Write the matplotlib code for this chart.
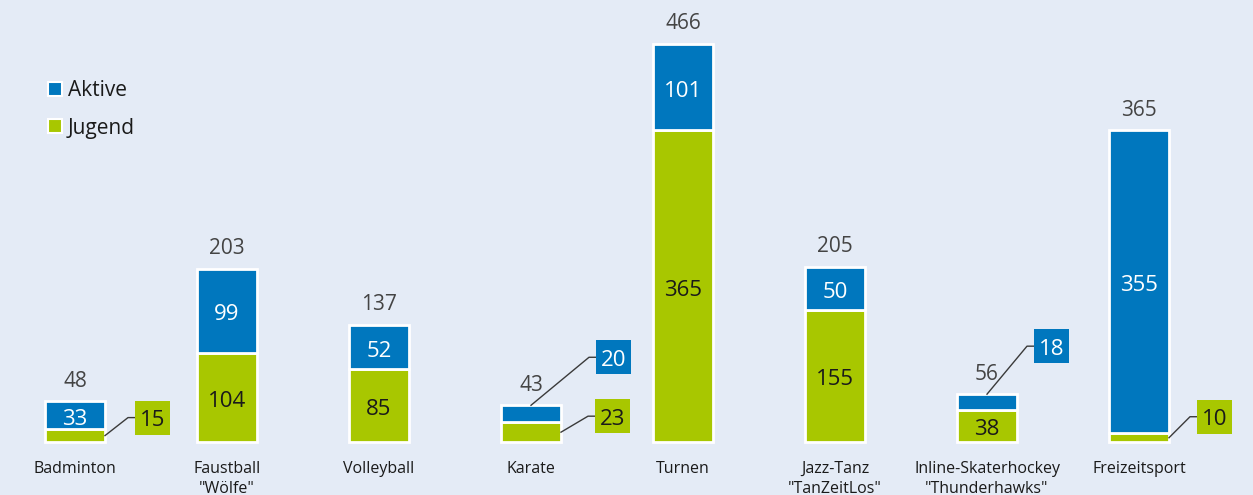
import numpy as np
import matplotlib
matplotlib.use("Agg")
import matplotlib.pyplot as plt
from matplotlib.patches import Rectangle, Patch

plt.rcParams['font.family'] = ['Open Sans', 'DejaVu Sans']

# data
categories = ['Badminton', 'Faustball\n"Wölfe"', 'Volleyball', 'Karate', 'Turnen',
              'Jazz-Tanz\n"TanZeitLos"', 'Inline-Skaterhockey\n"Thunderhawks"', 'Freizeitsport']
jugend = [15, 104, 85, 23, 365, 155, 38, 10]
aktive = [33, 99, 52, 20, 101, 50, 18, 355]

BG = '#e4ebf6'
BLUE = '#0077be'
GREEN = '#a8c700'
DARK = '#1a1a1a'
GREY = '#444444'

# pixel scale of the layout (axes fill the whole figure)
W, H = 1253, 495
PX_X = 152.0           # px per category
PX_Y = 398.0 / 466     # px per unit
X0, BASE = 75, 442     # first bar centre, baseline (px from top)
NUDGE = 4 / PX_Y       # Open Sans digits sit high with va='center'

fig = plt.figure(figsize=(W / 100, H / 100), dpi=100, facecolor=BG)
ax = fig.add_axes([0, 0, 1, 1])
ax.set_facecolor(BG)
ax.set_xlim(-X0 / PX_X, (W - X0) / PX_X)
ax.set_ylim(-(H - BASE) / PX_Y, BASE / PX_Y)
ax.axis('off')

x = np.arange(len(categories))
jug = np.array(jugend)
akt = np.array(aktive)
tot = jug + akt
bw = 60 / PX_X

ax.bar(x, jug, width=bw, color=GREEN, edgecolor='white', linewidth=2)
ax.bar(x, akt, bottom=jug, width=bw, color=BLUE, edgecolor='white', linewidth=2)

# values inside the segments
for i in range(len(x)):
    if jug[i] >= 30:
        ax.text(x[i], jug[i] / 2 - NUDGE, str(jug[i]), ha='center', va='center',
                fontsize=16, color=DARK)
    if akt[i] >= 30:
        ax.text(x[i], jug[i] + akt[i] / 2 - NUDGE, str(akt[i]), ha='center', va='center',
                fontsize=16, color='white')
    ax.text(x[i], tot[i] + 20 / PX_Y, str(tot[i]), ha='center', va='center',
            fontsize=15, color=GREY)
    ax.text(x[i], -19 / PX_Y, categories[i], ha='center', va='top',
            fontsize=11.5, color=DARK, linespacing=1.35)

# callouts for small segments: (index, series, elbow dx px, elbow dy px)
callouts = [(0, 'j', 23, 18), (3, 'j', 27, 16), (3, 'a', 58, 48),
            (6, 'a', 40, 48), (7, 'j', 21, 21)]
for i, s, dx, dy in callouts:
    if s == 'j':
        ax_, ay_ = x[i] + bw / 2, jug[i] / 2
        val, fc, tc = jug[i], GREEN, DARK
    else:
        ax_, ay_ = x[i], tot[i]
        val, fc, tc = akt[i], BLUE, 'white'
    ex, ey = ax_ + dx / PX_X, ay_ + dy / PX_Y
    bx = ex + 7 / PX_X
    ax.plot([ax_, ex, bx], [ay_, ey, ey], color='#3a3a3a', lw=1, zorder=3)
    bwid, bhgt = 35 / PX_X, 34 / PX_Y
    ax.add_patch(Rectangle((bx, ey - bhgt / 2), bwid, bhgt, facecolor=fc,
                           edgecolor='none', zorder=4))
    ax.text(bx + bwid / 2, ey - NUDGE * 0.8, str(val), ha='center', va='center',
            fontsize=16, color=tc, zorder=5)

handles = [Patch(facecolor=BLUE, edgecolor='white', linewidth=1.5, label='Aktive'),
           Patch(facecolor=GREEN, edgecolor='white', linewidth=1.5, label='Jugend')]
leg = ax.legend(handles=handles, loc='upper left', bbox_to_anchor=(48 / W, 1 - 80 / H),
                frameon=False, fontsize=15, handlelength=0.65, handleheight=0.65,
                handletextpad=0.3, labelspacing=0.8, borderpad=0, borderaxespad=0)
for t in leg.get_texts():
    t.set_color(DARK)

fig.savefig('out.png', dpi=100, facecolor=BG)
